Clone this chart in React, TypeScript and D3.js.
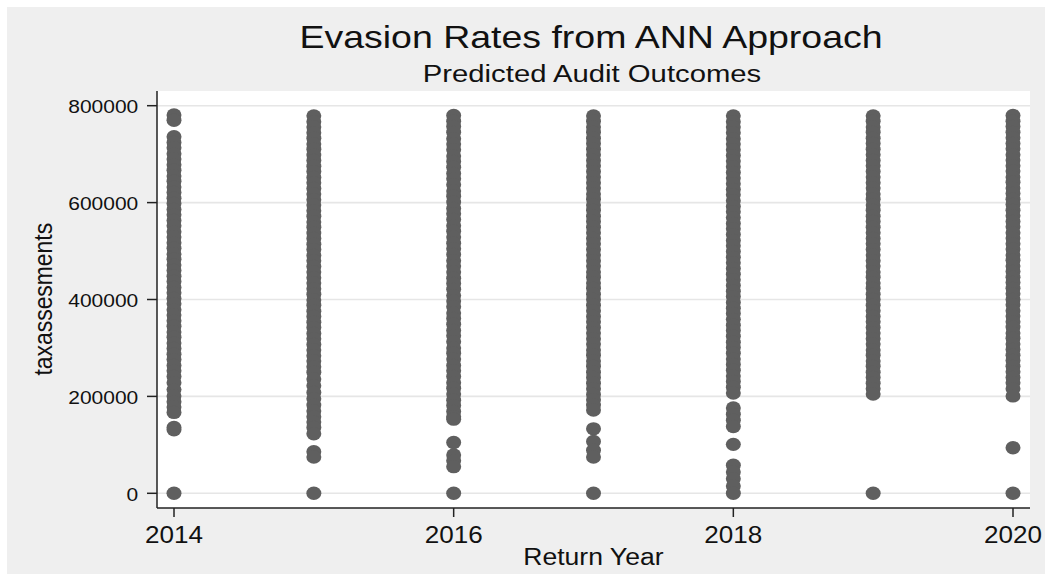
import React, { useRef, useEffect } from 'react';
import * as d3 from 'd3';

// tax assessments per return year (in thousands)
const years = [2014, 2015, 2016, 2017, 2018, 2019, 2020];

const k2014 = [781, 770, 736, 724, 713, 701, 690, 678, 667, 655, 644, 632, 621, 609, 598, 586, 575, 563, 552, 540, 529, 517, 506, 494, 483, 471, 460, 448, 437, 425, 414, 402, 391, 379, 368, 356, 345, 333, 322, 310, 299, 287, 276, 264, 253, 241, 228, 214, 201, 189, 178, 167, 136, 131, 0];
const k2015 = [779, 767, 756, 744, 733, 721, 710, 698, 687, 675, 664, 652, 641, 629, 618, 606, 595, 583, 572, 560, 549, 537, 526, 514, 503, 491, 480, 468, 457, 445, 434, 422, 411, 399, 388, 376, 365, 353, 342, 330, 319, 307, 296, 284, 273, 261, 250, 236, 222, 208, 195, 182, 170, 158, 147, 136, 123, 86, 75, 0];
const k2016 = [780, 768, 757, 745, 732, 721, 709, 696, 685, 673, 660, 649, 637, 624, 613, 601, 588, 577, 565, 552, 541, 529, 516, 505, 493, 480, 469, 457, 444, 433, 421, 408, 397, 385, 372, 361, 349, 336, 325, 313, 300, 289, 277, 264, 253, 241, 228, 217, 205, 192, 181, 169, 158, 153, 105, 79, 67, 55, 0];
const k2017 = [779, 768, 756, 745, 733, 722, 710, 699, 687, 676, 664, 653, 641, 630, 618, 607, 595, 584, 572, 561, 549, 538, 526, 515, 503, 492, 480, 469, 457, 446, 434, 423, 411, 400, 388, 377, 365, 354, 342, 331, 319, 308, 296, 285, 273, 262, 250, 239, 227, 216, 204, 193, 182, 172, 133, 107, 89, 75, 0];
const k2018 = [779, 767, 756, 744, 732, 721, 709, 697, 686, 674, 662, 651, 639, 627, 616, 604, 592, 581, 569, 557, 546, 534, 522, 511, 499, 487, 476, 464, 452, 441, 429, 417, 406, 394, 382, 371, 359, 347, 336, 324, 312, 301, 289, 277, 266, 254, 242, 231, 219, 207, 176, 163, 151, 138, 101, 58, 44, 30, 15, 0];
const k2019 = [779, 768, 756, 745, 733, 722, 710, 699, 687, 676, 664, 653, 641, 630, 618, 607, 595, 584, 572, 561, 549, 538, 526, 515, 503, 492, 480, 469, 457, 446, 434, 423, 411, 400, 388, 377, 365, 354, 342, 331, 319, 308, 296, 285, 273, 262, 250, 239, 227, 216, 205, 0];
const k2020 = [780, 768, 757, 745, 734, 722, 711, 699, 688, 676, 665, 653, 642, 630, 619, 607, 596, 584, 573, 561, 550, 538, 527, 515, 504, 492, 481, 469, 458, 446, 435, 423, 412, 400, 389, 377, 366, 354, 343, 331, 320, 308, 297, 285, 274, 262, 251, 239, 228, 216, 201, 94, 0];

const assessments = [k2014, k2015, k2016, k2017, k2018, k2019, k2020];

const yTicks = [0, 200000, 400000, 600000, 800000];
const xTicks = [2014, 2016, 2018, 2020];

const FONT = "'Liberation Sans', Arial, sans-serif";

const App = () => {
  const svgRef = useRef<SVGSVGElement | null>(null);

  useEffect(() => {
    const width = 1045;
    const height = 574;
    const plot = { left: 157, right: 1030, top: 91, bottom: 508 };

    const svg = d3.select(svgRef.current)
      .attr('width', width)
      .attr('height', height);

    const x = d3.scaleLinear().domain([2014, 2020]).range([plot.left + 17, plot.right - 17]);
    const y = d3.scaleLinear().domain([0, 800000]).range([plot.bottom - 14.7, plot.top + 14.7]);

    svg.append('rect').attr('width', width).attr('height', height).attr('fill', '#ffffff');
    svg.append('rect')
      .attr('x', 7).attr('y', 7)
      .attr('width', width - 7).attr('height', height - 7)
      .attr('fill', '#efefef');
    svg.append('rect')
      .attr('x', plot.left).attr('y', plot.top)
      .attr('width', plot.right - plot.left).attr('height', plot.bottom - plot.top)
      .attr('fill', '#ffffff');

    // grid lines
    svg.append('g')
      .selectAll('line')
      .data(yTicks)
      .enter()
      .append('line')
      .attr('x1', plot.left).attr('x2', plot.right)
      .attr('y1', d => y(d)).attr('y2', d => y(d))
      .attr('stroke', '#e6e6e6')
      .attr('stroke-width', 1.6);

    // points
    const points = years.flatMap((yr, i) => assessments[i].map(v => ({ yr, v: v * 1000 })));
    svg.append('g')
      .selectAll('ellipse')
      .data(points)
      .enter()
      .append('ellipse')
      .attr('cx', d => x(d.yr))
      .attr('cy', d => y(d.v))
      .attr('rx', 7.5)
      .attr('ry', 6.7)
      .attr('fill', '#5f5f5f');

    // axes
    svg.append('line')
      .attr('x1', plot.left).attr('x2', plot.left)
      .attr('y1', plot.top).attr('y2', plot.bottom)
      .attr('stroke', '#222').attr('stroke-width', 1.5);
    svg.append('line')
      .attr('x1', plot.left).attr('x2', plot.right)
      .attr('y1', plot.bottom).attr('y2', plot.bottom)
      .attr('stroke', '#222').attr('stroke-width', 1.5);

    const yAxis = svg.append('g');
    yAxis.selectAll('line')
      .data(yTicks)
      .enter()
      .append('line')
      .attr('x1', plot.left - 10).attr('x2', plot.left)
      .attr('y1', d => y(d)).attr('y2', d => y(d))
      .attr('stroke', '#222').attr('stroke-width', 1.5);
    yAxis.selectAll('text')
      .data(yTicks)
      .enter()
      .append('text')
      .attr('transform', d => `translate(138.3, ${y(d) + 7.5}) scale(1.13, 1)`)
      .attr('text-anchor', 'end')
      .style('font-size', '18.6px')
      .style('font-family', FONT)
      .attr('fill', '#111')
      .text(d => d);

    const xAxis = svg.append('g');
    xAxis.selectAll('line')
      .data(xTicks)
      .enter()
      .append('line')
      .attr('x1', d => x(d)).attr('x2', d => x(d))
      .attr('y1', plot.bottom).attr('y2', plot.bottom + 9)
      .attr('stroke', '#222').attr('stroke-width', 1.5);
    xAxis.selectAll('text')
      .data(xTicks)
      .enter()
      .append('text')
      .attr('transform', d => `translate(${x(d)}, 543.3) scale(1.12, 1)`)
      .attr('text-anchor', 'middle')
      .style('font-size', '23.3px')
      .style('font-family', FONT)
      .attr('fill', '#111')
      .text(d => d);

    // titles
    svg.append('text')
      .attr('transform', 'translate(591, 47.5) scale(1.19, 1)')
      .attr('text-anchor', 'middle')
      .style('font-size', '31.5px')
      .style('font-family', FONT)
      .attr('fill', '#111')
      .text('Evasion Rates from ANN Approach');
    svg.append('text')
      .attr('transform', 'translate(592, 81.7) scale(1.22, 1)')
      .attr('text-anchor', 'middle')
      .style('font-size', '24px')
      .style('font-family', FONT)
      .attr('fill', '#111')
      .text('Predicted Audit Outcomes');

    svg.append('text')
      .attr('transform', 'translate(593.4, 565) scale(1.13, 1)')
      .attr('text-anchor', 'middle')
      .style('font-size', '23.5px')
      .style('font-family', FONT)
      .attr('fill', '#111')
      .text('Return Year');
    svg.append('text')
      .attr('transform', 'translate(51.7, 299.2) rotate(-90) scale(1, 1.13)')
      .attr('text-anchor', 'middle')
      .style('font-size', '22.9px')
      .style('font-family', FONT)
      .attr('fill', '#111')
      .text('taxassesments');

    return () => {
      d3.select(svgRef.current).selectAll('*').remove();
    };
  }, []);

  return (
    <div>
      <svg ref={svgRef} style={{ position: 'absolute', left: 0, top: 0, display: 'block' }}></svg>
    </div>
  );
};

export default App;
